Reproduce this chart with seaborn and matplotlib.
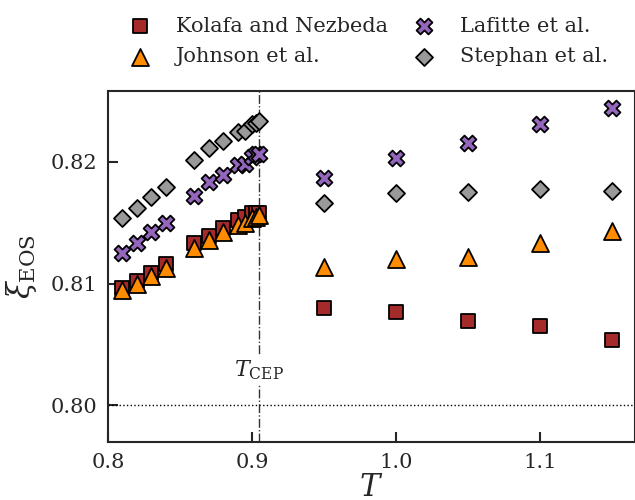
import numpy as np
import pandas as pd
import seaborn as sns
import matplotlib.pyplot as plt

# temperaturas
T = [0.81, 0.82, 0.83, 0.84, 0.86, 0.87, 0.88, 0.89, 0.895, 0.90, 0.9025, 0.905,
     0.95, 1.00, 1.05, 1.10, 1.15]

kolafa = [0.8096, 0.8102, 0.8109, 0.8116, 0.8133, 0.8139, 0.8146, 0.8152, 0.8155, 0.8158, 0.8158, 0.8158,
          0.8080, 0.8077, 0.8069, 0.8065, 0.8054]
johnson = [0.8095, 0.8100, 0.8106, 0.8113, 0.8129, 0.8136, 0.8142, 0.8148, 0.8150, 0.8154, 0.8155, 0.8156,
           0.8114, 0.8120, 0.8122, 0.8133, 0.8143]
lafitte = [0.8125, 0.8133, 0.8142, 0.8150, 0.8172, 0.8183, 0.8189, 0.8197, 0.8198, 0.8204, 0.8206, 0.8206,
           0.8187, 0.8203, 0.8215, 0.8231, 0.8244]
stephan = [0.8154, 0.8162, 0.8171, 0.8179, 0.8201, 0.8211, 0.8217, 0.8224, 0.8225, 0.8231, 0.8232, 0.8233,
           0.8166, 0.8174, 0.8175, 0.8178, 0.8176]

labels = ['Kolafa and Nezbeda', 'Johnson et al.', 'Lafitte et al.', 'Stephan et al.']
T_CEP = 0.905

sns.set_style('ticks')
plt.rcParams['font.family'] = ['DejaVu Serif']
plt.rcParams['mathtext.fontset'] = 'dejavuserif'

fig = plt.figure(figsize=(6.35, 5.0), dpi=100)
ax = fig.add_axes([108 / 635, 58 / 500, 527 / 635, 351 / 500])

series = [
    (kolafa, labels[0], 's', '#a52a2a', 110),
    (johnson, labels[1], '^', '#ff8c00', 150),
    (lafitte, labels[2], 'X', '#9467bd', 130),
    (stephan, labels[3], 'D', '#999999', 75),
]
for vals, lab, mk, col, size in series:
    df = pd.DataFrame({'T': T, 'xi': vals})
    sns.scatterplot(data=df, x='T', y='xi', marker=mk, color=col, s=size,
                    edgecolor='black', linewidth=1.3, label=lab, ax=ax, zorder=3)

# linhas de referencia
ax.axhline(0.80, color='black', linestyle=':', linewidth=1.0, zorder=1)
ax.axvline(T_CEP, color='#333333', linestyle='-.', linewidth=1.0, zorder=1)
ax.text(T_CEP, 0.8029, r'$T_{\mathrm{CEP}}$', ha='center', va='center', fontsize=16,
        bbox=dict(facecolor='white', edgecolor='none', pad=1.5), zorder=2)

ax.set_xlim(0.8, 1.166)
ax.set_ylim(0.797, 0.8258)
ax.set_xticks([0.8, 0.9, 1.0, 1.1])
ax.set_xticklabels(['0.8', '0.9', '1.0', '1.1'])
ax.set_yticks([0.80, 0.81, 0.82])
ax.set_yticklabels(['0.80', '0.81', '0.82'])
ax.tick_params(direction='in', length=7, width=1.5, labelsize=15, pad=8)
for sp in ax.spines.values():
    sp.set_linewidth(1.5)

ax.set_xlabel(r'$T$', fontsize=22, labelpad=0)
ax.set_ylabel(r'$\xi_{\mathrm{EOS}}$', fontsize=22, labelpad=8)

ax.legend(loc='lower center', bbox_to_anchor=(0.485, 1.0), ncol=2, frameon=False,
          fontsize=15, handletextpad=0.7, columnspacing=0.75, labelspacing=0.55,
          borderaxespad=0.8)

fig.savefig('out.png', dpi=100)
